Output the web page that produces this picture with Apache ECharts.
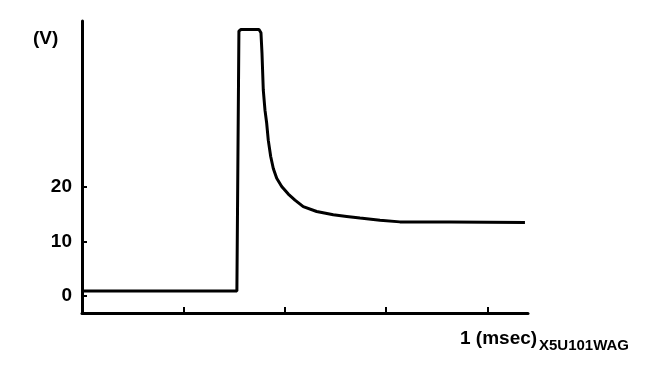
<!DOCTYPE html>
<html>
<head>
<meta charset="utf-8">
<script src="https://cdn.jsdelivr.net/npm/echarts@6/dist/echarts.min.js"></script>
<style>
html,body{margin:0;padding:0;background:#fff;}
#chart{width:672px;height:382px;}
</style>
</head>
<body>
<div id="chart"></div>
<script>
// time (msec)
const timeMs = [0, 0.382, 0.387, 0.392, 0.4365, 0.440, 0.4414, 0.4439, 0.4471, 0.4513, 0.4555, 0.4594, 0.4654, 0.4718, 0.4802, 0.4925, 0.5088, 0.5253, 0.5457, 0.5788, 0.6197, 0.6528, 0.6856, 0.7350, 0.784, 0.9075, 1.0925];
// voltage (V)
const voltage = [0.9, 0.9, 48.6, 48.9, 48.9, 48.6, 48.3, 44.6, 37.8, 34.1, 31.7, 28.6, 25.6, 23.4, 21.6, 20.1, 18.7, 17.6, 16.4, 15.5, 14.9, 14.6, 14.3, 13.9, 13.6, 13.6, 13.5];
const yTicks = [0, 10, 20];
const xTicks = [0.25, 0.5, 0.75, 1];
const yUnit = '(V)';
const xLabelText = '1 (msec)';
const figCode = 'X5U101WAG';

const chart = echarts.init(document.getElementById('chart'), null, {renderer: 'canvas'});
const font = 'Liberation Sans, Arial, Helvetica, sans-serif';
chart.setOption({
  animation: false,
  backgroundColor: '#fff',
  grid: {left: 82, right: 144, top: 21, bottom: 69, containLabel: false},
  xAxis: {
    type: 'value', min: 0, max: 1.1,
    axisLine: {show: true, onZero: false, lineStyle: {color: '#000', width: 3}},
    axisTick: {show: true, inside: true, length: 6, lineStyle: {color: '#000', width: 2}, customValues: xTicks},
    axisLabel: {show: false},
    splitLine: {show: false}
  },
  yAxis: {
    type: 'value', min: -3.12, max: 50.46,
    axisLine: {show: true, onZero: false, lineStyle: {color: '#000', width: 3}},
    axisTick: {show: true, inside: true, length: 5, lineStyle: {color: '#000', width: 2}, customValues: yTicks},
    axisLabel: {show: true, customValues: yTicks, color: '#000', fontSize: 19, fontWeight: 'bold', fontFamily: font, margin: 10, padding: [7, 0, 0, 0]},
    splitLine: {show: false}
  },
  series: [{
    type: 'line',
    data: timeMs.map((t, i) => [t, voltage[i]]),
    showSymbol: false,
    lineStyle: {color: '#000', width: 3},
    smooth: false
  }],
  graphic: [
    {type: 'text', left: 33, top: 29, style: {text: yUnit, fill: '#000', font: 'bold 19px ' + font}},
    {type: 'text', left: 460, top: 329, style: {text: xLabelText, fill: '#000', font: 'bold 19px ' + font}},
    {type: 'text', left: 539, top: 338, style: {text: figCode, fill: '#000', font: 'bold 15px ' + font}}
  ]
});
</script>
</body>
</html>
